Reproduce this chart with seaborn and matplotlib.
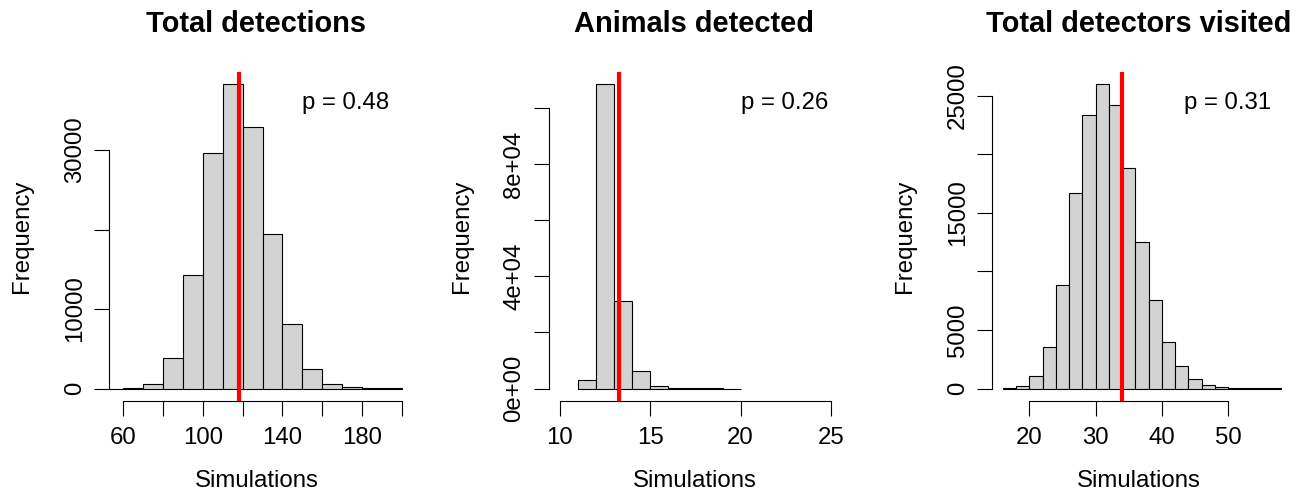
import numpy as np
import pandas as pd
import matplotlib
matplotlib.use("Agg")
import matplotlib.pyplot as plt
import seaborn as sns

# ---------------- data ----------------
titles = ["Total detections", "Animals detected", "Total detectors visited"]

# panel 1: bins of width 10 starting at 50
p1_start, p1_width = 50, 10
p1_counts = [0, 100, 590, 3790, 14300, 29620, 38330, 32860, 19390, 8160,
             2480, 630, 130, 40, 10]
p1_obs = 118
p1_p = "p = 0.48"
p1_xticks = [60, 80, 100, 120, 140, 160, 180, 200]
p1_xlabels = ["60", "", "100", "", "140", "", "180", ""]
p1_yticks = [0, 10000, 20000, 30000]
p1_ylabels = ["0", "10000", "", "30000"]

# panel 2: bins of width 1 starting at 11
p2_start, p2_width = 11, 1
p2_counts = [3210, 108570, 31070, 6070, 1070, 240, 50, 10, 5]
p2_obs = 13.26
p2_p = "p = 0.26"
p2_xticks = [10, 15, 20, 25]
p2_xlabels = ["10", "15", "20", "25"]
p2_yticks = [0, 20000, 40000, 60000, 80000, 100000]
p2_ylabels = ["0e+00", "", "4e+04", "", "8e+04", ""]

# panel 3: bins of width 2 starting at 16
p3_start, p3_width = 16, 2
p3_counts = [60, 200, 1080, 3560, 8800, 16660, 23350, 26000, 24230, 18820,
             12500, 7520, 3990, 1880, 800, 340, 140, 60, 25, 10, 5]
p3_obs = 34
p3_p = "p = 0.31"
p3_xticks = [20, 30, 40, 50]
p3_xlabels = ["20", "30", "40", "50"]
p3_yticks = [0, 5000, 10000, 15000, 20000, 25000]
p3_ylabels = ["0", "5000", "", "15000", "", "25000"]

# ---------------- layout (pixels) ----------------
W, H = 1311, 494
plot_top, plot_bot = 71.7, 400.7
panel_px = [(109.3, 403.7), (548.7, 840.3), (992.3, 1284.7)]
xlims = [(52.96, 201.0), (9.394, 25.51), (14.41, 58.56)]
ptext_x = [0.802, 0.809, 0.804]

sns.set_style("white")
plt.rcParams["font.family"] = ["Liberation Sans", "DejaVu Sans"]
plt.rcParams["text.color"] = "black"
plt.rcParams["axes.labelcolor"] = "black"
plt.rcParams["xtick.color"] = "black"
plt.rcParams["ytick.color"] = "black"

fig = plt.figure(figsize=(W / 100, H / 100), dpi=100)

panels = [
    (p1_start, p1_width, p1_counts, p1_obs, p1_p, p1_xticks, p1_xlabels, p1_yticks, p1_ylabels),
    (p2_start, p2_width, p2_counts, p2_obs, p2_p, p2_xticks, p2_xlabels, p2_yticks, p2_ylabels),
    (p3_start, p3_width, p3_counts, p3_obs, p3_p, p3_xticks, p3_xlabels, p3_yticks, p3_ylabels),
]

FS = 17.3
for i, (start, width, counts, obs, ptxt, xt, xl, yt, yl) in enumerate(panels):
    l, r = panel_px[i]
    ax = fig.add_axes([l / W, (H - plot_bot) / H, (r - l) / W, (plot_bot - plot_top) / H])
    counts = [float(c) for c in counts]
    edges = [start + width * k for k in range(len(counts) + 1)]
    centers = [e + width / 2 for e in edges[:-1]]
    df = pd.DataFrame({"x": centers, "w": counts})
    sns.histplot(data=df, x="x", weights="w", bins=edges, ax=ax,
                 color="#D3D3D3", edgecolor="black", linewidth=0.8,
                 alpha=1, stat="count")
    ax.axvline(obs, color="#FF0000", linewidth=3.0, zorder=5)

    ymax = max(counts)
    ax.set_ylim(-0.04 * ymax, 1.04 * ymax)
    ax.set_xlim(*xlims[i])

    ax.set_xticks(xt)
    ax.set_xticklabels(xl, fontsize=FS, color="black")
    ax.set_yticks(yt)
    ax.set_yticklabels(yl, fontsize=FS, rotation=90, va="center", color="black")
    ax.tick_params(axis="both", direction="out", length=10.5, width=0.8,
                   color="black", labelcolor="black", bottom=True, left=True)
    ax.tick_params(axis="x", pad=8.5)
    ax.tick_params(axis="y", pad=6.5)

    for s in ["top", "right"]:
        ax.spines[s].set_visible(False)
    for s in ["left", "bottom"]:
        ax.spines[s].set_visible(True)
        ax.spines[s].set_color("black")
        ax.spines[s].set_linewidth(0.8)
    ax.spines["bottom"].set_bounds(xt[0], xt[-1])
    ax.spines["left"].set_bounds(yt[0], yt[-1])

    ax.set_xlabel("Simulations", fontsize=FS, color="black")
    ax.set_ylabel("Frequency", fontsize=FS, color="black")
    ax.xaxis.set_label_coords(0.5, -(481 - plot_bot) / (plot_bot - plot_top))
    ax.yaxis.set_label_coords(-87 / (r - l), 0.5)
    ax.xaxis.label.set_va("center")
    ax.yaxis.label.set_va("center")

    ax.set_title(titles[i], fontsize=20.9, fontweight="bold", pad=28.6, color="black")
    ax.text(ptext_x[i], 0.904, ptxt, transform=ax.transAxes, ha="center",
            va="center", fontsize=FS, color="black")
    ax.grid(False)
    ax.set_facecolor("white")

fig.savefig("out.png", dpi=100, facecolor="white")
